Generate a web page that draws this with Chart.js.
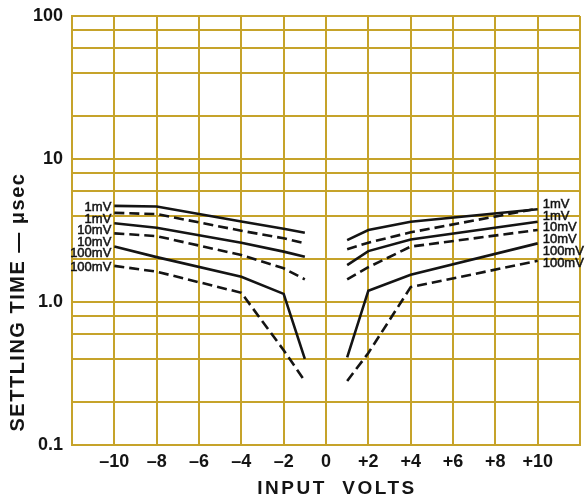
<!DOCTYPE html>
<html>
<head>
<meta charset="utf-8">
<script src="https://cdn.jsdelivr.net/npm/chart.js@4/dist/chart.umd.min.js"></script>
<style>
  body { margin: 0; background: #fff; }
  canvas { display: block; }
</style>
</head>
<body>
<canvas id="settleChart" width="588" height="501"></canvas>
<script>
// input volts where the curves break (negative side, positive side)
const voltsNeg = [-10, -8, -4, -2, -1];
const voltsPos = [1, 2, 4, 10];

// settling time in usec
const labels = ['1mV', '1mV', '10mV', '10mV', '100mV', '100mV'];
const dashed = [false, true, false, true, false, true];
const timeNeg = [
    [4.7, 4.65, 3.65, 3.25, 3.05],
    [4.2, 4.12, 3.15, 2.79, 2.57],
    [3.55, 3.31, 2.6, 2.25, 2.07],
    [3.02, 2.89, 2.13, 1.72, 1.44],
    [2.44, 2.06, 1.5, 1.14, 0.4],
    [1.79, 1.63, 1.16, 0.46, 0.28]
];
const timePos = [
    [2.71, 3.19, 3.64, 4.45],
    [2.34, 2.6, 3.07, 4.5],
    [1.81, 2.27, 2.74, 3.64],
    [1.44, 1.75, 2.44, 3.19],
    [0.41, 1.2, 1.55, 2.57],
    [0.28, 0.44, 1.27, 1.94]
];

const xGridVals = [-12, -10, -8, -6, -4, -2, 0, 2, 4, 6, 8, 10, 12];
const yGridVals = [0.1, 0.2, 0.4, 0.6, 0.8, 1, 2, 4, 6, 8, 10, 20, 40, 60, 80, 100];
const yTickVals = [0.1, 1, 10, 100];
const yTickText = ['0.1', '1.0', '10', '100'];

const gridColor = '#c6a32a';
const inkColor = '#141414';

const datasets = labels.map((lbl, i) => {
    let pts = voltsNeg.map((v, k) => ({x: v, y: timeNeg[i][k]}));
    pts.push({x: 0, y: null});
    pts = pts.concat(voltsPos.map((v, k) => ({x: v, y: timePos[i][k]})));
    return {
        label: lbl,
        data: pts,
        borderColor: inkColor,
        borderWidth: 2.6,
        borderDash: dashed[i] ? [10, 5] : [],
        pointRadius: 0,
        tension: 0,
        spanGaps: false
    };
});

// the mV tags at both ends of each curve
const curveTags = {
    id: 'curveTags',
    afterDatasetsDraw(chart) {
        const ctx = chart.ctx;
        ctx.save();
        ctx.font = '13px "Liberation Sans", Arial, sans-serif';
        ctx.fillStyle = inkColor;
        ctx.strokeStyle = inkColor;
        ctx.lineWidth = 0.5;
        ctx.textBaseline = 'middle';
        let prevL = -Infinity, prevR = -Infinity;
        chart.data.datasets.forEach((ds, i) => {
            const pts = chart.getDatasetMeta(i).data;
            const first = pts[0], last = pts[pts.length - 1];
            let yl = Math.max(first.y + 2, prevL + 11.5);
            prevL = yl;
            ctx.textAlign = 'right';
            ctx.fillText(ds.label, first.x - 3, yl);
            ctx.strokeText(ds.label, first.x - 3, yl);
            let yr = Math.max(last.y - 5, prevR + 11.8);
            prevR = yr;
            ctx.textAlign = 'left';
            ctx.fillText(ds.label, last.x + 5, yr);
            ctx.strokeText(ds.label, last.x + 5, yr);
        });
        ctx.restore();
    }
};

// axis titles, drawn by hand for the wide lettering
const axisTitles = {
    id: 'axisTitles',
    afterDraw(chart) {
        const ctx = chart.ctx;
        ctx.save();
        ctx.fillStyle = inkColor;
        ctx.textAlign = 'center';
        ctx.textBaseline = 'middle';
        ctx.font = 'bold 19px "Liberation Sans", Arial, sans-serif';
        ctx.letterSpacing = '2.5px';
        ctx.fillText('INPUT  VOLTS', 337, 489);
        ctx.translate(18, 302);
        ctx.rotate(-Math.PI / 2);
        ctx.font = 'bold 20px "Liberation Sans", Arial, sans-serif';
        ctx.letterSpacing = '1.5px';
        ctx.fillText('SETTLING TIME \u2014 \u03bcsec', 0, 0);
        ctx.restore();
    }
};

const chart = new Chart(document.getElementById('settleChart'), {
    type: 'line',
    data: {datasets: datasets},
    plugins: [curveTags, axisTitles],
    options: {
        responsive: false,
        animation: false,
        devicePixelRatio: 1,
        layout: {padding: {top: 16, right: 8, left: 0, bottom: 0}},
        plugins: {legend: {display: false}, tooltip: {enabled: false}},
        scales: {
            x: {
                type: 'linear',
                min: -12,
                max: 12,
                afterBuildTicks: (s) => { s.ticks = xGridVals.map(v => ({value: v})); },
                afterFit: (s) => { s.height = 56; },
                grid: {color: gridColor, lineWidth: 2, drawTicks: false},
                border: {color: gridColor, width: 2},
                ticks: {
                    autoSkip: false,
                    maxRotation: 0,
                    padding: 6,
                    color: inkColor,
                    font: {family: '"Liberation Sans", Arial, sans-serif', size: 18, weight: 'bold'},
                    callback: (v) => {
                        if (Math.abs(v) > 10) return '';
                        if (v > 0) return '+' + v;
                        if (v < 0) return '\u2013' + Math.abs(v);
                        return '0';
                    }
                }
            },
            y: {
                type: 'logarithmic',
                min: 0.1,
                max: 100,
                afterBuildTicks: (s) => { s.ticks = yGridVals.map(v => ({value: v})); },
                afterFit: (s) => { s.width = 72; s.paddingTop = 0; },
                grid: {color: gridColor, lineWidth: 2, drawTicks: false},
                border: {color: gridColor, width: 2},
                ticks: {
                    autoSkip: false,
                    padding: 9,
                    color: inkColor,
                    font: {family: '"Liberation Sans", Arial, sans-serif', size: 18, weight: 'bold', lineHeight: 1},
                    callback: (v) => {
                        const k = yTickVals.findIndex(t => Math.abs(t - v) < 1e-9);
                        return k >= 0 ? yTickText[k] : '';
                    }
                }
            }
        }
    }
});
</script>
</body>
</html>
